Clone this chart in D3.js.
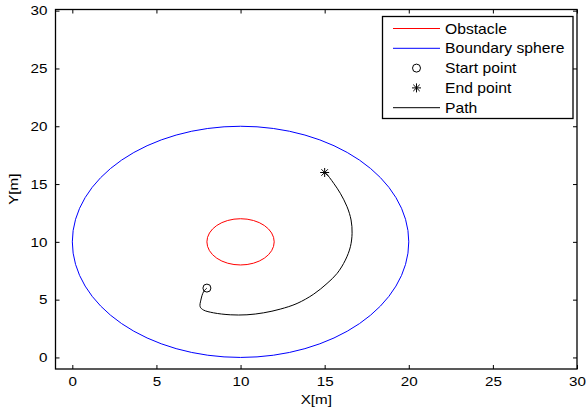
<!DOCTYPE html>
<html>
<head>
<meta charset="utf-8">
<script src="https://cdn.jsdelivr.net/npm/d3@7"></script>
<style>
  html, body { margin: 0; padding: 0; background: #fff; }
  svg { display: block; }
  text { font-family: "Liberation Sans", Arial, sans-serif; fill: #000; }
</style>
</head>
<body>
<div id="chart"></div>
<script>
// Axis ranges and tick values
const xDomain = [-1, 30];
const yDomain = [-1, 30.1];
const xTicks = [0, 5, 10, 15, 20, 25, 30];
const yTicks = [0, 5, 10, 15, 20, 25, 30];

// Obstacle and boundary sphere: [centerX, centerY, radius]
const obstacle = [10, 10, 2];
const boundary = [10, 10, 10];

// Start and end points
const startPoint = [8, 6];
const endPoint = [15, 16];

// Planned path (x, y)
const pathX = [8.0, 7.80, 7.64, 7.60, 7.80, 8.39, 9.39, 10.38, 11.37, 12.36, 13.36, 14.35, 15.14, 15.74, 16.23, 16.53, 16.63, 16.57, 16.33, 15.93, 15.54, 15.08, 15.0];
const pathY = [6.0, 5.68, 4.96, 4.38, 4.10, 3.86, 3.69, 3.69, 3.86, 4.18, 4.67, 5.48, 6.40, 7.27, 8.42, 9.58, 10.74, 11.89, 13.04, 14.20, 15.06, 15.93, 16.0];

// Legend entries
const legendLabels = ["Obstacle", "Boundary sphere", "Start point", "End point", "Path"];
const legendKinds = ["line", "line", "circle", "star", "line"];
const legendColors = ["#ff0000", "#0000ff", "#000000", "#000000", "#000000"];

const W = 587, H = 411;
const plot = { left: 55.5, right: 577, top: 9.5, bottom: 369 };

const x = d3.scaleLinear().domain(xDomain).range([plot.left, plot.right]);
const y = d3.scaleLinear().domain(yDomain).range([plot.bottom, plot.top]);

const svg = d3.select("#chart").append("svg")
  .attr("width", W).attr("height", H);

const fontSize = 13;
const stretch = 1.17;

// Circles (drawn as ellipses since the axes are not equal-aspect)
function drawCircle(c, color) {
  svg.append("ellipse")
    .attr("cx", x(c[0])).attr("cy", y(c[1]))
    .attr("rx", x(c[0] + c[2]) - x(c[0]))
    .attr("ry", y(c[1]) - y(c[1] + c[2]))
    .attr("fill", "none").attr("stroke", color).attr("stroke-width", 1);
}
drawCircle(obstacle, "#ff0000");
drawCircle(boundary, "#0000ff");

// Path
const pathData = pathX.map((v, i) => [v, pathY[i]]);
svg.append("path")
  .datum(pathData)
  .attr("d", d3.line().x(d => x(d[0])).y(d => y(d[1])).curve(d3.curveCatmullRom))
  .attr("fill", "none").attr("stroke", "#000").attr("stroke-width", 1);

// Markers
function circleMarker(g, cx, cy) {
  g.append("circle").attr("cx", cx).attr("cy", cy).attr("r", 4)
    .attr("fill", "none").attr("stroke", "#000").attr("stroke-width", 1);
}
function starMarker(g, cx, cy) {
  const s = 4.5, d = s * 0.72;
  const segs = [[-s, 0, s, 0], [0, -s, 0, s], [-d, -d, d, d], [-d, d, d, -d]];
  g.selectAll(null).data(segs).enter().append("line")
    .attr("x1", q => cx + q[0]).attr("y1", q => cy + q[1])
    .attr("x2", q => cx + q[2]).attr("y2", q => cy + q[3])
    .attr("stroke", "#000").attr("stroke-width", 1);
}
circleMarker(svg, x(startPoint[0]), y(startPoint[1]));
starMarker(svg, x(endPoint[0]), y(endPoint[1]));

// Axes box
svg.append("rect")
  .attr("x", plot.left).attr("y", plot.top)
  .attr("width", plot.right - plot.left).attr("height", plot.bottom - plot.top)
  .attr("fill", "none").attr("stroke", "#000").attr("stroke-width", 1.3);

// Inward ticks on all four sides
const tl = 4;
const axB = svg.append("g").attr("transform", `translate(0,${plot.bottom})`)
  .call(d3.axisBottom(x).tickValues(xTicks).tickSizeInner(-tl).tickSizeOuter(0).tickPadding(8));
const axT = svg.append("g").attr("transform", `translate(0,${plot.top})`)
  .call(d3.axisTop(x).tickValues(xTicks).tickSizeInner(-tl).tickSizeOuter(0).tickFormat(""));
const axL = svg.append("g").attr("transform", `translate(${plot.left},0)`)
  .call(d3.axisLeft(y).tickValues(yTicks).tickSizeInner(-tl).tickSizeOuter(0).tickPadding(8));
const axR = svg.append("g").attr("transform", `translate(${plot.right},0)`)
  .call(d3.axisRight(y).tickValues(yTicks).tickSizeInner(-tl).tickSizeOuter(0).tickFormat(""));

[axB, axT, axL, axR].forEach(a => {
  a.select(".domain").remove();
  a.selectAll(".tick line").attr("stroke", "#000").attr("stroke-width", 1);
  a.selectAll("text").attr("font-size", fontSize)
    .attr("font-family", "Liberation Sans, Arial, sans-serif").attr("fill", "#000");
});
// Slight horizontal stretch of tick labels
axB.selectAll(".tick text").each(function () {
  const t = d3.select(this);
  t.attr("transform", `scale(${stretch},1)`).attr("x", 0);
});
axL.selectAll(".tick text").each(function () {
  const t = d3.select(this);
  const xx = +t.attr("x");
  t.attr("transform", `translate(${xx},0) scale(${stretch},1)`).attr("x", 0);
});

// Axis titles
svg.append("text").text("X[m]")
  .attr("transform", `translate(${(plot.left + plot.right) / 2},${plot.bottom + 35}) scale(${stretch},1)`)
  .attr("text-anchor", "middle").attr("font-size", fontSize);
svg.append("text").text("Y[m]")
  .attr("transform", `translate(18,${(plot.top + plot.bottom) / 2}) rotate(-90) scale(${stretch},1)`)
  .attr("text-anchor", "middle").attr("font-size", fontSize);

// Legend
const lg = { x: 382.5, y: 16.5, w: 190.5, h: 102, rowH: 19.8, firstY: 28.5 };
svg.append("rect")
  .attr("x", lg.x).attr("y", lg.y).attr("width", lg.w).attr("height", lg.h)
  .attr("fill", "#fff").attr("stroke", "#000").attr("stroke-width", 1.3);
legendLabels.forEach((lab, i) => {
  const cy = lg.firstY + i * lg.rowH;
  const g = svg.append("g");
  if (legendKinds[i] === "line") {
    g.append("line").attr("x1", 393).attr("x2", 440).attr("y1", cy).attr("y2", cy)
      .attr("stroke", legendColors[i]).attr("stroke-width", 1);
  } else if (legendKinds[i] === "circle") {
    circleMarker(g, 416.5, cy);
  } else {
    starMarker(g, 416.5, cy);
  }
  g.append("text").text(lab)
    .attr("transform", `translate(445,${cy + 5}) scale(1.12,1)`)
    .attr("font-size", 14);
});
</script>
</body>
</html>
